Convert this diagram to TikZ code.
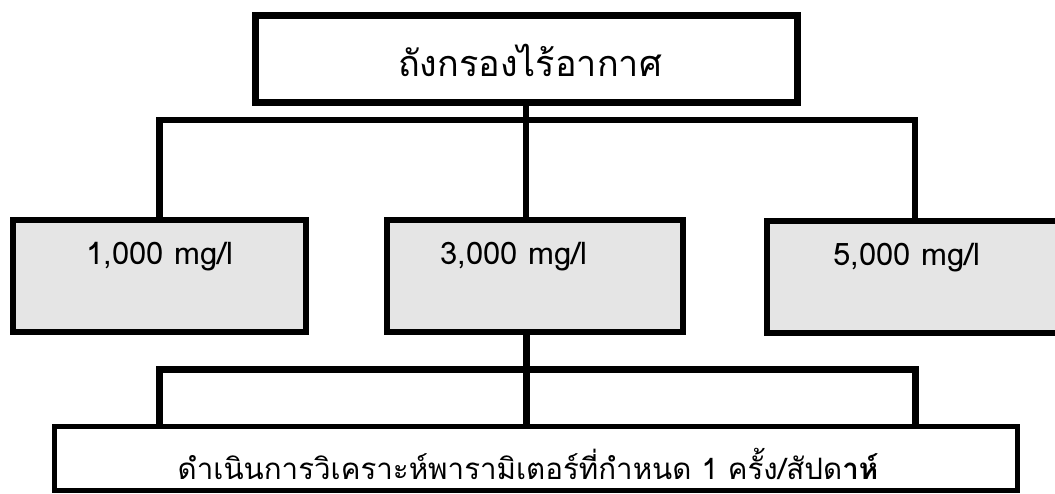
\documentclass[tikz,border=0pt]{standalone}
\usepackage{fontspec}
\newfontfamily\thaifont[Script=Thai]{Loma}
\tikzset{
  topbox/.style={draw, line width=7pt, fill=white, inner sep=0pt},
  catbox/.style={draw, line width=6pt, fill=black!10, inner sep=0pt, minimum height=112pt},
  botbox/.style={draw, line width=5pt, fill=white, inner sep=0pt},
  conn/.style={line width=6.5pt},
  lconn/.style={line width=7pt},
  lbl/.style={font=\thaifont\fontsize{31}{36}\selectfont, inner sep=0pt},
  toplbl/.style={font=\thaifont\fontsize{36}{42}\selectfont, inner sep=0pt},
  botlbl/.style={font=\thaifont\fontsize{29.5}{35}\selectfont, inner sep=0pt}
}
\begin{document}
\begin{tikzpicture}[x=1pt,y=-1pt]
\clip (0,0) rectangle (1055,493);
\fill[white] (0,0) rectangle (1055,493);
% nodes
\node[topbox, minimum width=542pt, minimum height=87pt] (top) at (526,59) {};
\node[toplbl] (toptext) at (530,60) {ถังกรองไร้อากาศ};
\node[catbox, minimum width=293pt] (b1) at (159.5,276) {};
\node[catbox, minimum width=296pt] (b2) at (535,276) {};
\node[catbox, minimum width=333pt] (b3) at (933.5,277) {};
\node[lbl] (t1) at (160,257) {1,000 mg/l};
\node[lbl] (t2) at (514,257) {3,000 mg/l};
\node[lbl] (t3) at (907,258) {5,000 mg/l};
\node[botbox, minimum width=963pt, minimum height=64pt] (bot) at (536,458) {};
\node[botlbl] (bottext) at (528,464) {ดำเนินการวิเคราะห์พารามิเตอร์ที่กำหนด 1 ครั้ง/สัปด\textbf{าห์}};
% upper connectors
\coordinate (busL) at (159.5,120);
\coordinate (busR) at (915,120);
\draw[conn] (top.south) -- (top.south |- b2.north);
\draw[conn] (b1.north) -- (busL) -- (busR) -- (busR |- b3.north);
% lower connectors
\coordinate (lbusL) at (159,369);
\coordinate (lbusR) at (915,369);
\draw[lconn] (top.south |- b2.south) -- (top.south |- bot.north);
\draw[lconn] (lbusL |- bot.north) -- (lbusL) -- (lbusR) -- (lbusR |- bot.north);
\end{tikzpicture}
\end{document}
